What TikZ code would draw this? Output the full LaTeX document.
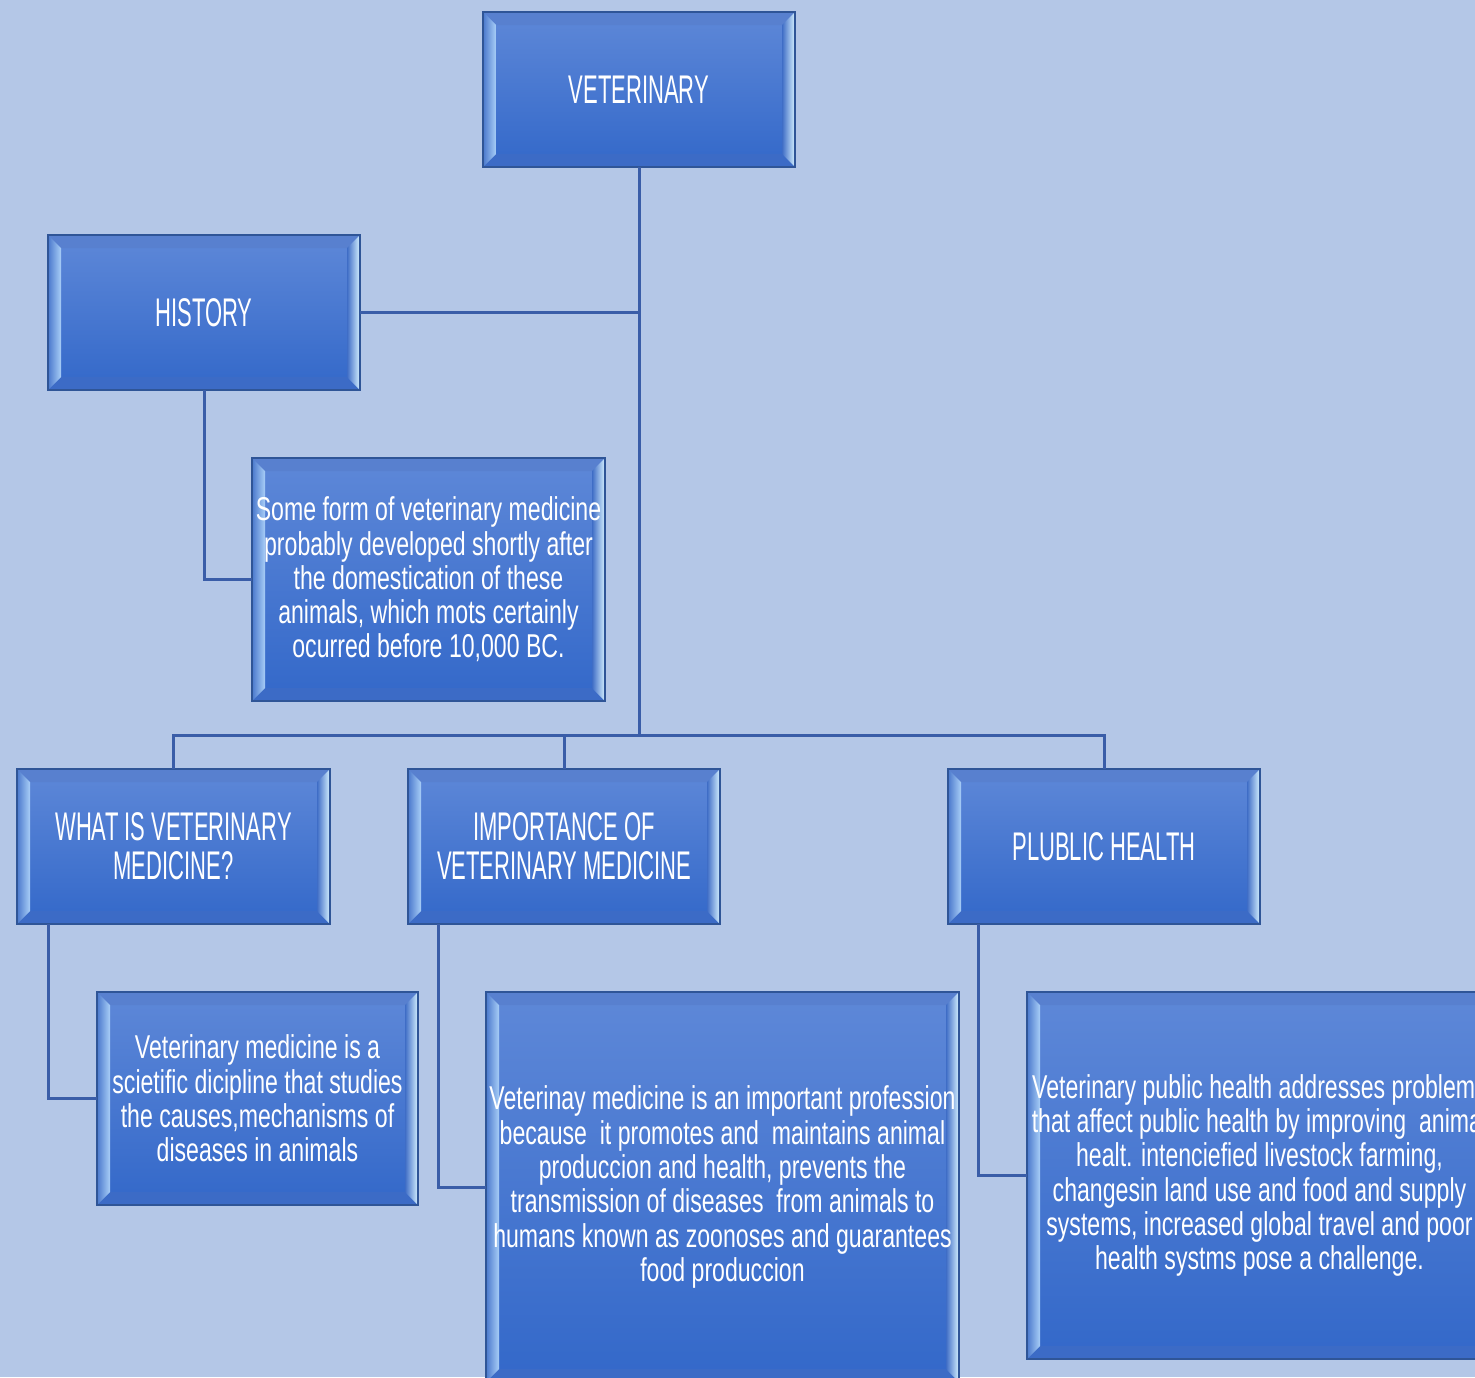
\documentclass[tikz,border=0pt]{standalone}
\usepackage{fontspec}
\setmainfont{Liberation Sans}
\newfontfamily\titlef[FakeStretch=0.55]{Liberation Sans}
\newfontfamily\bodyf[FakeStretch=0.70]{Liberation Sans}
\usetikzlibrary{calc}
\definecolor{bg}{HTML}{B4C7E7}
\definecolor{bord}{HTML}{2F5597}
\definecolor{lineC}{HTML}{3A5DA8}
\definecolor{facetop}{HTML}{5E88D8}
\definecolor{facebot}{HTML}{3368C9}
\definecolor{bevtop}{HTML}{5880CF}
\definecolor{bevbot}{HTML}{3C6BC6}
\definecolor{bevLa}{HTML}{4A78CC}
\definecolor{bevLb}{HTML}{A8CEF7}
\definecolor{bevRa}{HTML}{3F6DC6}
\definecolor{bevRb}{HTML}{D4F0FF}
\begin{document}
\begin{tikzpicture}[x=1pt,y=-1pt,
  vbox/.style={draw=bord, line width=2pt, top color=facetop, bottom color=facebot,
    inner sep=0pt, outer sep=0pt, text=white, align=center,
    path picture={
      \coordinate (ppa) at (path picture bounding box.north west);
      \coordinate (ppb) at (path picture bounding box.north east);
      \coordinate (ppc) at (path picture bounding box.south east);
      \coordinate (ppd) at (path picture bounding box.south west);
      \fill[bevtop] (ppa) -- (ppb) -- ($(ppb)+(-13pt,-13pt)$) -- ($(ppa)+(13pt,-13pt)$) -- cycle;
      \fill[bevbot] (ppd) -- (ppc) -- ($(ppc)+(-13pt,13pt)$) -- ($(ppd)+(13pt,13pt)$) -- cycle;
      \shade[left color=bevLa, right color=bevLb] (ppa) -- ($(ppa)+(13pt,-13pt)$) -- ($(ppd)+(13pt,13pt)$) -- (ppd) -- cycle;
      \shade[left color=bevRa, right color=bevRb] (ppb) -- ($(ppb)+(-13pt,-13pt)$) -- ($(ppc)+(-13pt,13pt)$) -- (ppc) -- cycle;
    }},
  titlebox/.style={vbox, font=\titlef\fontsize{40}{39}\selectfont},
  bodybox/.style={vbox, font=\bodyf\fontsize{33}{34.3}\selectfont},
  conn/.style={draw=lineC, line width=3pt}]
\useasboundingbox (0,0) rectangle (1475,1377);
\fill[bg] (0,0) rectangle (1475,1377);
\clip (0,0) rectangle (1475,1377);

\node[titlebox, minimum width=312pt, minimum height=155pt] (vet) at (639,89.5) {VETERINARY};
\node[titlebox, minimum width=312pt, minimum height=155pt] (hist) at (204,312.5) {HISTORY};
\node[bodybox, minimum width=353pt, minimum height=243pt] (t1) at (428.5,579.5)
  {Some form of veterinary medicine\\probably developed shortly after\\the domestication of these\\animals, which mots certainly\\ocurred before 10,000 BC.};
\node[titlebox, minimum width=313pt, minimum height=155pt] (what) at (173.5,846.5) {WHAT IS VETERINARY\\MEDICINE?};
\node[titlebox, minimum width=312pt, minimum height=155pt] (imp) at (564,846.5) {IMPORTANCE OF\\VETERINARY MEDICINE};
\node[titlebox, minimum width=312pt, minimum height=155pt] (pub) at (1104,846.5) {PLUBLIC HEALTH};
\node[bodybox, minimum width=321pt, minimum height=213pt] (t2) at (257.5,1098.5)
  {Veterinary medicine is a\\scietific dicipline that studies\\the causes,mechanisms of\\diseases in animals};
\node[bodybox, minimum width=473pt, minimum height=390pt] (t3) at (722.5,1187)
  {Veterinay medicine is an important profession\\because\ \ it promotes and\ \ maintains animal\\produccion and health, prevents the\\transmission of diseases\ \ from animals to\\humans known as zoonoses and guarantees\\food produccion};
\node[bodybox, minimum width=465pt, minimum height=367pt] (t4) at (1259.5,1175.5)
  {Veterinary public health addresses problems\\that affect public health by improving\ \ animal\\healt. intenciefied livestock farming,\\changesin land use and food and supply\\systems, increased global travel and poor\\health systms pose a challenge.};

\coordinate (bus) at (639,735);
\draw[conn] (vet.south) -- (bus);
\draw[conn] (hist.east) -- (hist.east -| vet.south);
\draw[conn] (what.north) |- (pub.north |- bus) -- (pub.north);
\draw[conn] (imp.north) -- (imp.north |- bus);
\draw[conn] (hist.south) |- (t1.west);
\draw[conn] ($(what.south west)+(31,0)$) |- (t2.west);
\draw[conn] ($(imp.south west)+(30,0)$) |- (t3.west);
\draw[conn] ($(pub.south west)+(30,0)$) |- (t4.west);
\end{tikzpicture}
\end{document}
